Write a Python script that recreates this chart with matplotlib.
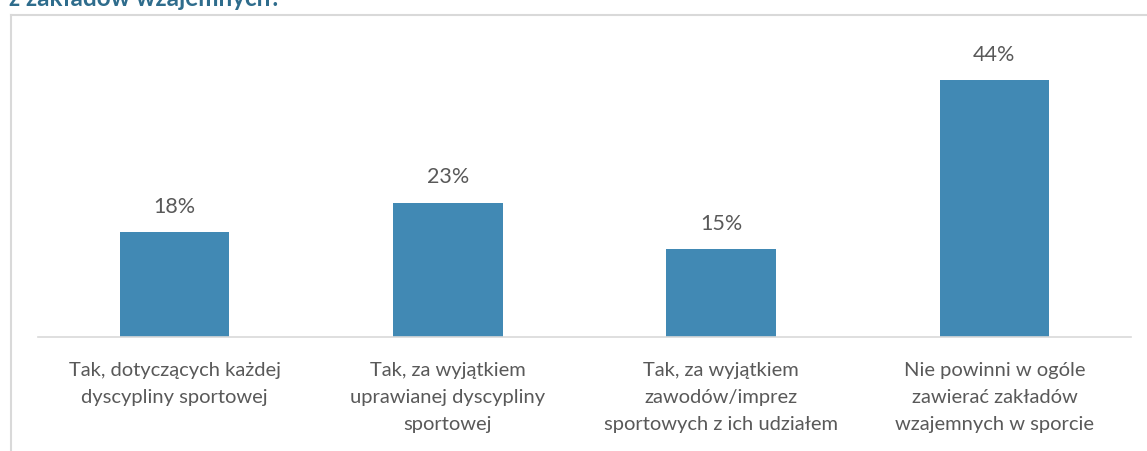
import matplotlib.pyplot as plt
from matplotlib.lines import Line2D

categories = [
    'Tak, dotyczących każdej\ndyscypliny sportowej',
    'Tak, za wyjątkiem\nuprawianej dyscypliny\nsportowej',
    'Tak, za wyjątkiem\nzawodów/imprez\nsportowych z ich udziałem',
    'Nie powinni w ogóle\nzawierać zakładów\nwzajemnych w sporcie',
]
values = [18, 23, 15, 44]
title = 'z zakładów wzajemnych?'

bar_color = '#4189B4'
text_color = '#595959'

plt.rcParams['font.family'] = ['Lato', 'DejaVu Sans']

W, H = 1147, 451
fig = plt.figure(figsize=(W / 100, H / 100), dpi=100)

# axes placed in pixel terms of the original
left, right, bottom, top = 38, 1131, 337, 20
ax = fig.add_axes([left / W, 1 - bottom / H, (right - left) / W, (bottom - top) / H])

x = range(len(values))
bars = ax.bar(x, values, width=0.4, color=bar_color)
ax.bar_label(bars, labels=[f'{v}%' for v in values], padding=11,
             fontsize=15.5, color=text_color)

ax.set_xlim(-0.5, len(values) - 0.5)
ax.set_ylim(0, (bottom - top) / 5.84)
ax.set_xticks(list(x))
ax.set_xticklabels(categories, fontsize=14.5, color=text_color, linespacing=1.72)
ax.tick_params(axis='x', length=0, pad=18)
ax.set_yticks([])
for s in ['top', 'left', 'right']:
    ax.spines[s].set_visible(False)
ax.spines['bottom'].set_color('#D9D9D9')
ax.spines['bottom'].set_linewidth(1.2)

# chart frame (cut off at right and bottom)
fig.add_artist(Line2D([11 / W, 1], [1 - 15 / H, 1 - 15 / H], color='#D9D9D9', lw=1.5))
fig.add_artist(Line2D([11 / W, 11 / W], [0, 1 - 15 / H], color='#D9D9D9', lw=1.5))

# title, only the lower part shows
fig.text(9 / W, 1 - 6 / H, title, fontsize=17.5, fontweight='bold',
         color='#2E6C8C', va='baseline', ha='left')

fig.savefig('out.png', dpi=100)
